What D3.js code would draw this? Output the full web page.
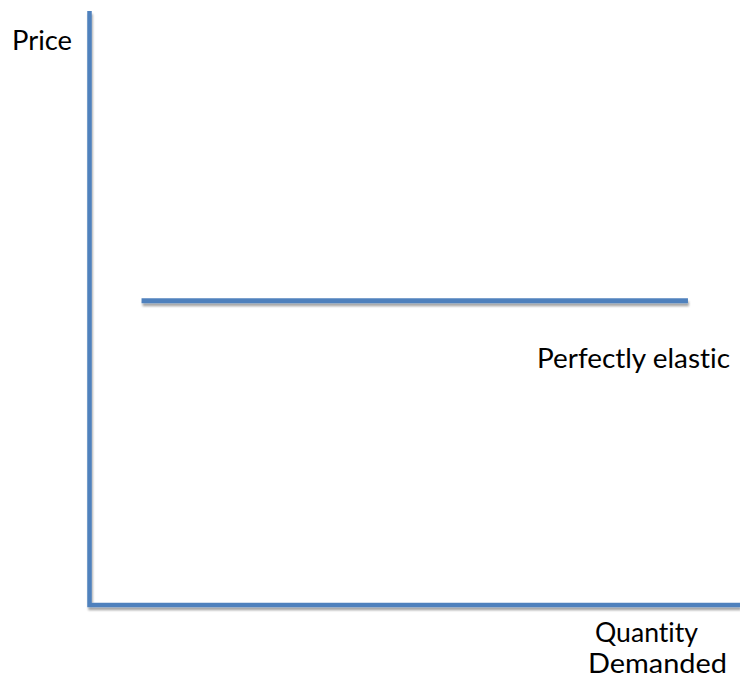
<!DOCTYPE html>
<html><head><meta charset="utf-8">
<script src="https://cdn.jsdelivr.net/npm/d3@7"></script>
<style>html,body{margin:0;padding:0;background:#fff;overflow:hidden} text{font-variant-ligatures:none;font-feature-settings:"liga" 0}</style>
</head><body>
<svg id="chart" width="740" height="679"></svg>
<script>
// Data
const demandQuantity = [0.8, 9.2];
const demandPrice = [5.12, 5.12];
const axisLabels = ["Price", "Quantity", "Demanded"];
const curveLabel = ["Perfectly elastic"];

const svg = d3.select("#chart");
const x = d3.scaleLinear().domain([0, 10]).range([89.5, 740]);
const y = d3.scaleLinear().domain([0, 10]).range([605, 11]);
const blue = "#4F81BD";
const font = "Lato, 'Open Sans', sans-serif";

const defs = svg.append("defs");
const f = defs.append("filter").attr("id", "sh").attr("filterUnits", "userSpaceOnUse")
  .attr("x", 0).attr("y", 0).attr("width", 740).attr("height", 679);
f.append("feGaussianBlur").attr("in", "SourceAlpha").attr("stdDeviation", 1.2).attr("result", "b");
f.append("feOffset").attr("in", "b").attr("dx", 1).attr("dy", 3).attr("result", "o");
f.append("feComponentTransfer").attr("in", "o").attr("result", "o2")
  .append("feFuncA").attr("type", "linear").attr("slope", 0.35);
const m = f.append("feMerge");
m.append("feMergeNode").attr("in", "o2");
m.append("feMergeNode").attr("in", "SourceGraphic");

// Axes
svg.append("path").attr("filter", "url(#sh)")
  .attr("d", d3.line()([[x(0), y(10)], [x(0), y(0)], [x(10), y(0)]]))
  .attr("fill", "none").attr("stroke", blue).attr("stroke-width", 4.5).attr("stroke-linejoin", "miter");

// Demand line
const pts = demandQuantity.map((q, i) => [x(q), y(demandPrice[i])]);
svg.append("path").attr("filter", "url(#sh)")
  .attr("d", d3.line()(pts))
  .attr("fill", "none").attr("stroke", blue).attr("stroke-width", 5);

function label(t, px, py, w) {
  svg.append("text").attr("x", px).attr("y", py)
    .attr("font-family", font).attr("font-size", 27).attr("fill", "#000").text(t)
    .attr("textLength", w).attr("lengthAdjust", "spacingAndGlyphs");
}
label(axisLabels[0], 12, 50, 60);
label(curveLabel[0], 537, 368, 193);
label(axisLabels[1], 595, 642, 103);
label(axisLabels[2], 588, 673, 139);
</script>
</body></html>
